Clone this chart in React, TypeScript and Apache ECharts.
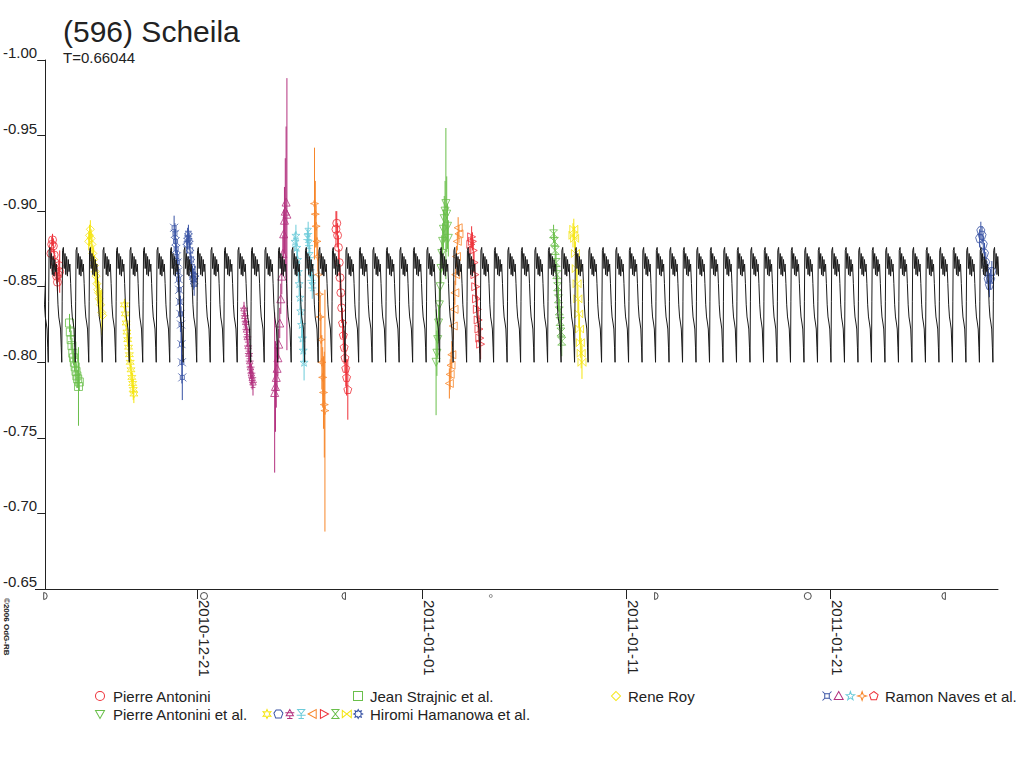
import React, { useEffect, useRef } from 'react';
import * as echarts from 'echarts';

const FONT = 'Liberation Sans, Arial, sans-serif';
const INK = '#222222';

// time axis: days counted from 2010-12-21 00:00 UT
const REF_TIME = Date.UTC(2010, 11, 21);
const dayOf = (s: string) =>
  (Date.parse(s.length === 10 ? s + 'T00:00:00Z' : s + ':00Z') - REF_TIME) / 86400000;

const xMin = -7.43;
const xMax = 39.2;
const magTop = -1.0;
const magBottom = -0.65;
const magStep = 0.05;

const tickDates = ['2010-12-21', '2011-01-01', '2011-01-11', '2011-01-21'];

const moonTimes = [
  '2010-12-13T13:59', '2010-12-21T08:13', '2010-12-28T04:18', '2011-01-04T09:03',
  '2011-01-12T11:31', '2011-01-19T21:21', '2011-01-26T12:57',
];
const moonPhases = ['first', 'full', 'last', 'new', 'first', 'full', 'last'];

// model light curve: one rotation, folded with the period
const period = 0.66044;
const minimumDay = 21.78;
const cyclePhase = [0, 0.03, 0.06, 0.12, 0.18, 0.24, 0.3, 0.36, 0.42, 0.48, 0.54, 0.6, 0.66, 0.72, 0.78, 0.85, 0.91, 0.96];
const cycleMag = [-0.8, -0.84, -0.874, -0.876, -0.862, -0.872, -0.858, -0.87, -0.857, -0.868, -0.86, -0.865, -0.852, -0.838, -0.83, -0.826, -0.822, -0.81];

// observations: [day, relative mag, error]
const antoniniDec14 = [
  [-7.15, -0.872, 0.004], [-7.11, -0.878, 0.005], [-7.07, -0.881, 0.004], [-7.03, -0.877, 0.005],
  [-6.99, -0.871, 0.004], [-6.95, -0.866, 0.005], [-6.91, -0.861, 0.004], [-6.87, -0.857, 0.005],
  [-6.83, -0.853, 0.006], [-6.79, -0.858, 0.005], [-6.75, -0.864, 0.004], [-6.72, -0.86, 0.014],
];
const strajnicDec14 = [
  [-6.24, -0.826, 0.006], [-6.2, -0.82, 0.005], [-6.16, -0.815, 0.006], [-6.12, -0.811, 0.005],
  [-6.08, -0.806, 0.006], [-6.04, -0.803, 0.005], [-6.0, -0.8, 0.006], [-5.96, -0.797, 0.007],
  [-5.92, -0.794, 0.006], [-5.88, -0.791, 0.008], [-5.84, -0.789, 0.006], [-5.8, -0.784, 0.026],
  [-5.76, -0.787, 0.006],
];
const royDec15 = [
  [-5.3, -0.88, 0.006], [-5.26, -0.884, 0.007], [-5.22, -0.888, 0.006], [-5.18, -0.882, 0.006],
  [-5.14, -0.878, 0.007], [-5.1, -0.872, 0.006], [-5.06, -0.868, 0.008], [-5.02, -0.864, 0.007],
  [-4.98, -0.86, 0.008], [-4.94, -0.857, 0.007], [-4.9, -0.852, 0.008], [-4.86, -0.848, 0.009],
  [-4.82, -0.846, 0.008], [-4.78, -0.842, 0.01], [-4.72, -0.838, 0.009], [-4.66, -0.833, 0.015],
  [-4.62, -0.831, 0.01],
];
const hiromiYellowDec17 = [
  [-3.55, -0.838, 0.004], [-3.51, -0.832, 0.005], [-3.47, -0.826, 0.005], [-3.43, -0.82, 0.006],
  [-3.39, -0.815, 0.005], [-3.35, -0.81, 0.006], [-3.31, -0.805, 0.006], [-3.27, -0.8, 0.006],
  [-3.23, -0.795, 0.007], [-3.19, -0.79, 0.006], [-3.15, -0.786, 0.007], [-3.12, -0.782, 0.007],
  [-3.09, -0.779, 0.006],
];
const navesBlueDec19 = [
  [-1.12, -0.889, 0.008], [-1.08, -0.885, 0.007], [-1.05, -0.88, 0.008], [-1.02, -0.875, 0.007],
  [-0.99, -0.87, 0.008], [-0.96, -0.866, 0.008], [-0.93, -0.86, 0.009], [-0.9, -0.855, 0.008],
  [-0.87, -0.848, 0.01], [-0.84, -0.84, 0.01], [-0.81, -0.832, 0.012], [-0.78, -0.825, 0.012],
  [-0.76, -0.812, 0.014], [-0.74, -0.8, 0.014], [-0.72, -0.79, 0.015],
];
const hiromiBlueDec20 = [
  [-0.5, -0.878, 0.006], [-0.46, -0.882, 0.007], [-0.42, -0.885, 0.006], [-0.38, -0.88, 0.006],
  [-0.34, -0.874, 0.007], [-0.3, -0.868, 0.006], [-0.26, -0.863, 0.007], [-0.22, -0.858, 0.006],
  [-0.18, -0.855, 0.007], [-0.14, -0.852, 0.008], [-0.1, -0.857, 0.007],
];
const hiromiMagentaDec23 = [
  [2.3, -0.835, 0.005], [2.34, -0.83, 0.006], [2.38, -0.826, 0.005], [2.42, -0.821, 0.006],
  [2.46, -0.816, 0.006], [2.5, -0.81, 0.006], [2.54, -0.805, 0.006], [2.58, -0.8, 0.007],
  [2.62, -0.796, 0.006], [2.66, -0.792, 0.007], [2.7, -0.789, 0.007], [2.74, -0.786, 0.008],
];
const navesMagentaDec24 = [
  [3.8, -0.78, 0.053], [3.84, -0.784, 0.03], [3.88, -0.79, 0.02], [3.92, -0.796, 0.015],
  [3.96, -0.803, 0.012], [4.0, -0.812, 0.01], [4.05, -0.826, 0.01], [4.1, -0.842, 0.01],
  [4.15, -0.857, 0.012], [4.2, -0.872, 0.012], [4.24, -0.885, 0.016], [4.28, -0.894, 0.022],
  [4.32, -0.9, 0.035], [4.36, -0.906, 0.05], [4.4, -0.898, 0.09],
];
const navesCyanDec25 = [
  [4.8, -0.88, 0.006], [4.84, -0.884, 0.007], [4.88, -0.876, 0.006], [4.92, -0.868, 0.007],
  [4.96, -0.86, 0.007], [5.0, -0.852, 0.008], [5.04, -0.843, 0.008], [5.08, -0.834, 0.008],
  [5.12, -0.825, 0.009], [5.16, -0.816, 0.009], [5.2, -0.808, 0.009], [5.24, -0.8, 0.012],
];
const hiromiCyanDec26 = [
  [5.4, -0.882, 0.006], [5.44, -0.886, 0.007], [5.48, -0.878, 0.006], [5.52, -0.87, 0.007],
  [5.56, -0.862, 0.006], [5.6, -0.855, 0.007], [5.64, -0.85, 0.008],
];
const navesOrangeDec26 = [
  [5.75, -0.905, 0.037], [5.79, -0.898, 0.022], [5.83, -0.89, 0.014], [5.87, -0.88, 0.01],
  [5.91, -0.87, 0.01], [5.95, -0.858, 0.012], [5.99, -0.845, 0.012], [6.03, -0.83, 0.014],
  [6.07, -0.815, 0.016], [6.11, -0.8, 0.018], [6.15, -0.79, 0.02], [6.19, -0.78, 0.024],
  [6.23, -0.772, 0.035], [6.26, -0.768, 0.08],
];
const antoniniDec28 = [
  [6.8, -0.888, 0.012], [6.84, -0.892, 0.008], [6.88, -0.884, 0.008], [6.92, -0.876, 0.008],
  [6.96, -0.866, 0.009], [7.0, -0.856, 0.008], [7.04, -0.846, 0.009], [7.08, -0.836, 0.01],
];
const navesRedDec28 = [
  [7.12, -0.826, 0.01], [7.16, -0.818, 0.01], [7.2, -0.81, 0.011], [7.24, -0.803, 0.01],
  [7.28, -0.796, 0.012], [7.32, -0.79, 0.012], [7.38, -0.782, 0.02],
];
const antoniniEtAlJan1 = [
  [11.7, -0.8, 0.035], [11.74, -0.806, 0.015], [11.78, -0.815, 0.012], [11.82, -0.826, 0.012],
  [11.86, -0.838, 0.011], [11.9, -0.85, 0.01], [11.94, -0.862, 0.01], [11.98, -0.872, 0.012],
  [12.02, -0.88, 0.012], [12.06, -0.888, 0.013], [12.1, -0.895, 0.015], [12.14, -0.9, 0.02],
  [12.18, -0.905, 0.05], [12.22, -0.898, 0.025], [12.26, -0.89, 0.015], [12.3, -0.882, 0.012],
];
const hiromiOrangeJan2 = [
  [12.35, -0.786, 0.01], [12.39, -0.792, 0.01], [12.43, -0.798, 0.009], [12.47, -0.805, 0.009],
  [12.54, -0.824, 0.009], [12.58, -0.835, 0.008], [12.62, -0.846, 0.008], [12.66, -0.858, 0.007],
  [12.7, -0.87, 0.007], [12.74, -0.88, 0.006], [12.78, -0.889, 0.007], [12.82, -0.885, 0.006],
];
const hiromiRedJan3 = [
  [13.4, -0.878, 0.006], [13.44, -0.883, 0.007], [13.48, -0.88, 0.006], [13.52, -0.874, 0.007],
  [13.56, -0.866, 0.007], [13.6, -0.858, 0.008], [13.64, -0.85, 0.008], [13.68, -0.842, 0.008],
  [13.72, -0.835, 0.009], [13.76, -0.828, 0.009], [13.8, -0.822, 0.009], [13.84, -0.816, 0.01],
  [13.88, -0.812, 0.01],
];
const hiromiGreenJan7 = [
  [17.45, -0.885, 0.006], [17.49, -0.88, 0.006], [17.53, -0.874, 0.007], [17.57, -0.866, 0.007],
  [17.61, -0.858, 0.007], [17.65, -0.85, 0.008], [17.69, -0.842, 0.008], [17.73, -0.834, 0.008],
  [17.77, -0.827, 0.009], [17.81, -0.82, 0.009], [17.85, -0.814, 0.01],
];
const hiromiYellowJan8 = [
  [18.4, -0.884, 0.008], [18.44, -0.888, 0.007], [18.48, -0.882, 0.008], [18.52, -0.872, 0.008],
  [18.56, -0.862, 0.008], [18.6, -0.852, 0.009], [18.64, -0.842, 0.009], [18.68, -0.832, 0.009],
  [18.72, -0.822, 0.01], [18.76, -0.813, 0.01], [18.8, -0.806, 0.01], [18.84, -0.8, 0.011],
];
const hiromiBlueJan28 = [
  [38.3, -0.882, 0.006], [38.36, -0.887, 0.006], [38.42, -0.884, 0.006], [38.48, -0.878, 0.006],
  [38.54, -0.872, 0.007], [38.6, -0.866, 0.007], [38.66, -0.86, 0.007], [38.72, -0.855, 0.007],
  [38.78, -0.851, 0.008], [38.84, -0.855, 0.007], [38.9, -0.86, 0.007],
];

const observerData: Record<string, number[][]> = {
  antonini: [...antoniniDec14, ...antoniniDec28],
  strajnic: strajnicDec14,
  roy: royDec15,
  navesBlue: navesBlueDec19,
  navesMagenta: navesMagentaDec24,
  navesCyan: navesCyanDec25,
  navesOrange: navesOrangeDec26,
  navesRed: navesRedDec28,
  antoniniEtAl: antoniniEtAlJan1,
  hiromiYellow: hiromiYellowDec17,
  hiromiBlue: hiromiBlueJan28,
  hiromiMagenta: hiromiMagentaDec23,
  hiromiCyan: hiromiCyanDec26,
  hiromiOrange: hiromiOrangeJan2,
  hiromiRed: hiromiRedJan3,
  hiromiGreen: hiromiGreenJan7,
  hiromiBow: hiromiYellowJan8,
  hiromiStar: hiromiBlueDec20,
};

const legendGroups = [
  { label: 'Pierre Antonini', keys: ['antonini'] },
  { label: 'Jean Strajnic et al.', keys: ['strajnic'] },
  { label: 'Rene Roy', keys: ['roy'] },
  { label: 'Ramon Naves et al.', keys: ['navesBlue', 'navesMagenta', 'navesCyan', 'navesOrange', 'navesRed'] },
  { label: 'Pierre Antonini et al.', keys: ['antoniniEtAl'] },
  {
    label: 'Hiromi Hamanowa et al.',
    keys: ['hiromiYellow', 'hiromiBlue', 'hiromiMagenta', 'hiromiCyan', 'hiromiOrange', 'hiromiRed', 'hiromiGreen', 'hiromiBow', 'hiromiStar'],
  },
];

// symbol outlines, drawn in a 20x20 box around 0,0
const SYMBOLS: Record<string, string> = {
  circle: 'M10,0 A10,10 0 1,1 -10,0 A10,10 0 1,1 10,0 Z',
  square: 'M-10,-10 L10,-10 L10,10 L-10,10 Z',
  diamond: 'M0,-10 L10,0 L0,10 L-10,0 Z',
  triUp: 'M0,-10 L10,8 L-10,8 Z',
  triDown: 'M0,10 L10,-8 L-10,-8 Z',
  triLeft: 'M-10,0 L8,-10 L8,10 Z',
  triRight: 'M10,0 L-8,-10 L-8,10 Z',
  pentagon: 'M0,-10 L9.5,-3.1 L5.9,8.1 L-5.9,8.1 L-9.5,-3.1 Z',
  star5: 'M0,-10 L2.4,-3.2 L9.5,-3.1 L3.8,1.3 L5.9,8.1 L0,4 L-5.9,8.1 L-3.8,1.3 L-9.5,-3.1 L-2.4,-3.2 Z',
  star4: 'M0,-10 L2.5,-2.5 L10,0 L2.5,2.5 L0,10 L-2.5,2.5 L-10,0 L-2.5,-2.5 Z',
  cornerSquare: 'M-5,-5 L5,-5 L5,5 L-5,5 Z M-10,-10 L-5,-5 M10,-10 L5,-5 M10,10 L5,5 M-10,10 L-5,5',
  hourglass: 'M-8,-10 L8,-10 L-8,10 L8,10 Z',
  bowtie: 'M-10,-8 L10,8 L10,-8 L-10,8 Z',
  star6: 'M0,-10 L2.5,-4.3 L8.7,-5 L5,0 L8.7,5 L2.5,4.3 L0,10 L-2.5,4.3 L-8.7,5 L-5,0 L-8.7,-5 L-2.5,-4.3 Z',
  shield: 'M-5,-9 L5,-9 L10,-2 L6,9 L-6,9 L-10,-2 Z',
  trident: 'M0,-10 L8,4 L-8,4 Z M-10,-3 L10,-3 M0,4 L0,10 M-6,10 L6,10',
  cupCross: 'M-8,-10 L8,-10 L0,0 Z M0,0 L0,10 M-10,3 L10,3 M-6,10 L6,10',
  star8: 'M0,-10 L2.3,-5.5 L7.1,-7.1 L5.5,-2.3 L10,0 L5.5,2.3 L7.1,7.1 L2.3,5.5 L0,10 L-2.3,5.5 L-7.1,7.1 L-5.5,2.3 L-10,0 L-5.5,-2.3 L-7.1,-7.1 L-2.3,-5.5 Z',
  halfRight: 'M0,-10 A10,10 0 0,1 0,10 Z',
  halfLeft: 'M0,-10 A10,10 0 0,0 0,10 Z',
};

const RED = '#ee3038';
const GREEN = '#6abf4b';
const YELLOW = '#f5e50f';
const BLUE = '#3853a4';
const MAGENTA = '#b3317e';
const CYAN = '#6ccbd9';
const ORANGE = '#f7862a';

const STYLE: Record<string, { color: string; symbol: string }> = {
  antonini: { color: RED, symbol: 'circle' },
  strajnic: { color: GREEN, symbol: 'square' },
  roy: { color: YELLOW, symbol: 'diamond' },
  navesBlue: { color: BLUE, symbol: 'cornerSquare' },
  navesMagenta: { color: MAGENTA, symbol: 'triUp' },
  navesCyan: { color: CYAN, symbol: 'star5' },
  navesOrange: { color: ORANGE, symbol: 'star4' },
  navesRed: { color: RED, symbol: 'pentagon' },
  antoniniEtAl: { color: GREEN, symbol: 'triDown' },
  hiromiYellow: { color: YELLOW, symbol: 'star6' },
  hiromiBlue: { color: BLUE, symbol: 'shield' },
  hiromiMagenta: { color: MAGENTA, symbol: 'trident' },
  hiromiCyan: { color: CYAN, symbol: 'cupCross' },
  hiromiOrange: { color: ORANGE, symbol: 'triLeft' },
  hiromiRed: { color: RED, symbol: 'triRight' },
  hiromiGreen: { color: GREEN, symbol: 'hourglass' },
  hiromiBow: { color: YELLOW, symbol: 'bowtie' },
  hiromiStar: { color: BLUE, symbol: 'star8' },
};

const MOON_SYMBOL: Record<string, string> = {
  first: 'halfRight',
  full: 'circle',
  last: 'halfLeft',
  new: 'circle',
};

Object.keys(SYMBOLS).forEach((k) => {
  echarts.graphic.registerShape('sym_' + k, echarts.graphic.extendPath(SYMBOLS[k], {}));
});

function buildCurve() {
  const pts: number[][] = [];
  const k0 = Math.floor((xMin - minimumDay) / period) - 1;
  const k1 = Math.ceil((xMax - minimumDay) / period) + 1;
  for (let k = k0; k <= k1; k++) {
    cyclePhase.forEach((ph, i) => {
      pts.push([minimumDay + (k + ph) * period, cycleMag[i]]);
    });
  }
  return pts;
}

function buildLegend() {
  // row / column placement of the legend blocks
  const places = [
    { x: 100, y: 696, textX: 113 },
    { x: 358, y: 696, textX: 370 },
    { x: 616, y: 696, textX: 628 },
    { x: 827, y: 696, textX: 885, pitch: 11.7 },
    { x: 100, y: 714, textX: 113 },
    { x: 267, y: 714, textX: 370, pitch: 11.4 },
  ];
  const scale = 0.45;
  const els: any[] = [];
  legendGroups.forEach((g, gi) => {
    const p = places[gi];
    g.keys.forEach((key, ki) => {
      const st = STYLE[key];
      els.push({
        type: 'sym_' + st.symbol,
        x: p.x + ki * (p.pitch || 0),
        y: p.y,
        scaleX: scale,
        scaleY: scale,
        silent: true,
        style: { fill: 'none', stroke: st.color, lineWidth: 1 / scale },
      });
    });
    els.push({
      type: 'text',
      x: p.textX,
      y: p.y,
      silent: true,
      style: { text: g.label, fill: INK, font: `15px ${FONT}`, align: 'left', verticalAlign: 'middle' },
    });
  });
  return els;
}

export default function App() {
  const chartRef = useRef<HTMLDivElement>(null);

  useEffect(() => {
    document.body.style.margin = '0';
    if (!chartRef.current) return;
    const chart = echarts.init(chartRef.current, undefined, { renderer: 'svg' });

    const tickDays = tickDates.map(dayOf);
    const labelFor = (v: number) => {
      const i = tickDays.findIndex((d) => Math.abs(d - v) < 1e-6);
      return i >= 0 ? tickDates[i] : '';
    };

    const series: any[] = [];
    Object.keys(observerData).forEach((key) => {
      const st = STYLE[key];
      series.push({
        type: 'custom',
        name: key + '-err',
        data: observerData[key],
        encode: { x: 0, y: 1 },
        clip: true,
        silent: true,
        z: 2,
        renderItem: (_p: any, api: any) => {
          const x = api.value(0);
          const m = api.value(1);
          const e = api.value(2);
          const a = api.coord([x, m - e]);
          const b = api.coord([x, m + e]);
          return {
            type: 'line',
            shape: { x1: a[0], y1: a[1], x2: b[0], y2: b[1] },
            style: { stroke: st.color, lineWidth: 1 },
          };
        },
      });
      series.push({
        type: 'scatter',
        name: key,
        data: observerData[key].map((d) => [d[0], d[1]]),
        symbol: 'path://' + SYMBOLS[st.symbol],
        symbolSize: 8,
        silent: true,
        z: 3,
        itemStyle: { color: 'rgba(0,0,0,0)', borderColor: st.color, borderWidth: 1 },
      });
    });

    series.push({
      type: 'line',
      name: 'model',
      data: buildCurve(),
      showSymbol: false,
      symbol: 'none',
      silent: true,
      z: 4,
      lineStyle: { color: '#1a1a1a', width: 1 },
    });

    series.push({
      type: 'scatter',
      name: 'moon',
      data: moonTimes.map((t, i) => ({
        value: [dayOf(t), magBottom],
        symbol: 'path://' + SYMBOLS[MOON_SYMBOL[moonPhases[i]]],
        symbolSize: moonPhases[i] === 'new' ? 3 : 7,
        itemStyle: {
          color: 'rgba(0,0,0,0)',
          borderColor: moonPhases[i] === 'new' ? '#777' : INK,
          borderWidth: 1,
        },
      })),
      symbolKeepAspect: true,
      symbolOffset: [0, 7],
      clip: false,
      silent: true,
      z: 5,
    });

    chart.setOption({
      animation: false,
      backgroundColor: '#ffffff',
      title: {
        text: '(596) Scheila',
        subtext: 'T=0.66044',
        left: 58,
        top: 11,
        itemGap: 4,
        textStyle: { fontSize: 30, fontWeight: 'normal', color: INK, fontFamily: FONT },
        subtextStyle: { fontSize: 15, color: INK, fontFamily: FONT },
      },
      grid: { left: 44, right: 26, top: 60, bottom: 179, containLabel: false },
      xAxis: {
        type: 'value',
        min: xMin,
        max: xMax,
        axisLine: { onZero: false, lineStyle: { color: INK, width: 1 } },
        axisTick: { show: true, customValues: tickDays, length: 10, lineStyle: { color: INK } },
        axisLabel: {
          customValues: tickDays,
          rotate: -90,
          margin: 11,
          verticalAlign: 'bottom',
          color: INK,
          fontSize: 15,
          fontFamily: FONT,
          formatter: (v: number) => labelFor(v),
        },
        splitLine: { show: false },
      },
      yAxis: {
        type: 'value',
        inverse: true,
        min: magTop,
        max: magBottom,
        interval: magStep,
        axisLine: { show: true, onZero: false, lineStyle: { color: INK, width: 1 } },
        axisTick: { show: true, length: 8, lineStyle: { color: INK } },
        axisLabel: {
          color: INK,
          fontSize: 15,
          fontFamily: FONT,
          margin: 8,
          verticalAlign: 'bottom',
          formatter: (v: number) => v.toFixed(2),
        },
        splitLine: { show: false },
      },
      graphic: [
        {
          type: 'line',
          silent: true,
          shape: { x1: 35, y1: 589.5, x2: 44, y2: 589.5 },
          style: { stroke: INK, lineWidth: 1 },
        },
        {
          type: 'text',
          x: 2,
          y: 598,
          rotation: -Math.PI / 2,
          silent: true,
          style: { text: '©2006 OdG-RB', fill: INK, font: `bold 8px ${FONT}`, align: 'left', verticalAlign: 'bottom' },
        },
        ...buildLegend(),
      ],
      series,
    });

    return () => {
      chart.dispose();
    };
  }, []);

  return <div ref={chartRef} style={{ width: 1024, height: 768 }} />;
}
